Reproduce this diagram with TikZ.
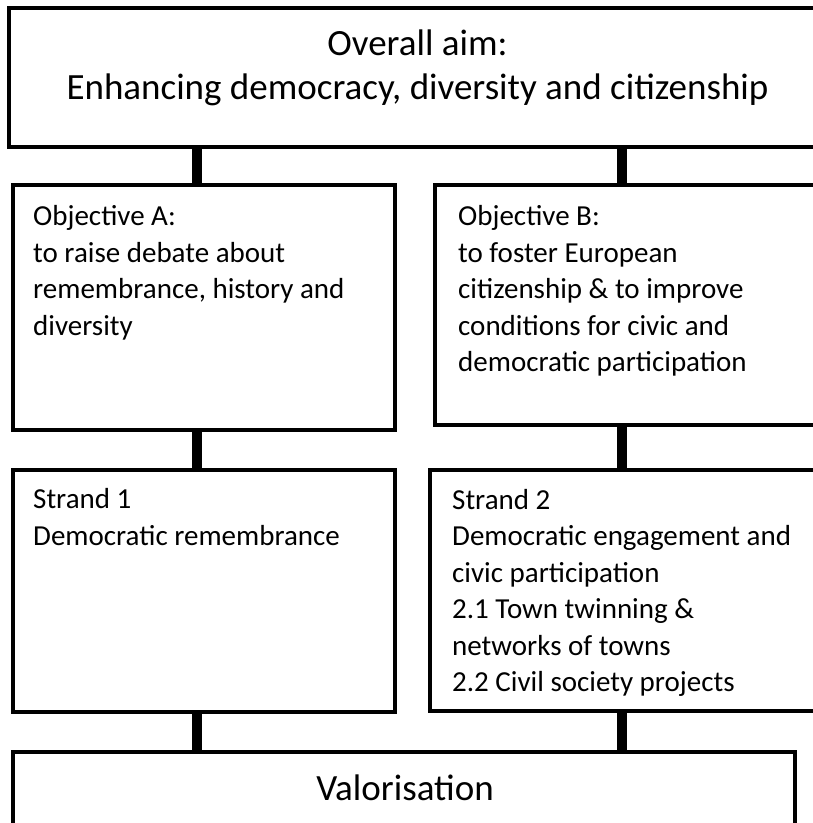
\documentclass[tikz,border=0pt]{standalone}
\usepackage{fontspec}
\setmainfont{Carlito}
\usetikzlibrary{positioning}

\begin{document}
\begin{tikzpicture}[x=1pt,y=1pt,node distance=40pt,
    box/.style={draw,rectangle,line width=4pt,inner sep=0pt,outer sep=0pt},
    bigtxt/.style={font=\fontsize{37}{44}\selectfont,inner sep=0pt,anchor=base},
    txt/.style={font=\fontsize{29}{36.5}\selectfont,align=left,inner sep=0pt,anchor=base west},
    link/.style={line width=10pt}]
    \useasboundingbox (0,0) rectangle (813,823);

    \node[box,minimum width=821pt,minimum height=139pt,anchor=north west] (aim) at (9,815) {};
    \node[box,minimum width=382pt,minimum height=245pt] (objA) [below right=38pt and 4pt of aim.south west] {};
    \node[box,minimum width=395pt,minimum height=240pt] (objB) [below right=0pt and 40pt of objA.north east] {};
    \node[box,minimum width=382pt,minimum height=242pt] (strA) [below right=40pt and 0pt of objA.south west] {};
    \node[box,minimum width=400pt,minimum height=241pt] (strB) [below right=0pt and 35pt of strA.north east] {};
    \node[box,minimum width=782pt,minimum height=88pt] (valor) [below right=40pt and 0pt of strA.south west] {};

    % base of a multi-line node is its last line
    \node[bigtxt] (aimA) at ([xshift=-2pt,yshift=-48pt]aim.north) {Overall aim:};
    \node[bigtxt] (aimB) at ([xshift=-2pt,yshift=-92pt]aim.north) {Enhancing democracy, diversity and citizenship};
    \node[txt] (objAtxt) at ([shift={(20pt,-150.2pt)}]objA.north west) {Objective A:\\to raise debate about\\remembrance, history and\\diversity};
    \node[txt] (objBtxt) at ([shift={(23pt,-186.7pt)}]objB.north west) {Objective B:\\to foster European\\citizenship \& to improve\\conditions for civic and\\democratic participation};
    \node[txt] (strAtxt) at ([shift={(20pt,-75.5pt)}]strA.north west) {Strand 1\\Democratic remembrance};
    \node[txt] (strBtxt) at ([shift={(22pt,-221.5pt)}]strB.north west) {Strand 2\\Democratic engagement and\\civic participation\\2.1 Town twinning \&\\networks of towns\\2.2 Civil society projects};
    \node[bigtxt] (valortxt) at ([xshift=1pt,yshift=-48pt]valor.north) {Valorisation};

    \coordinate (colL) at (197,0); \coordinate (colR) at (622,0);
    \draw[link] (aim.south -| colL) -- (objA.north -| colL);
    \draw[link] (aim.south -| colR) -- (objB.north -| colR);
    \draw[link] (objA.south -| colL) -- (strA.north -| colL);
    \draw[link] (objB.south -| colR) -- (strB.north -| colR);
    \draw[link] (strA.south -| colL) -- (valor.north -| colL);
    \draw[link] (strB.south -| colR) -- (valor.north -| colR);
\end{tikzpicture}
\end{document}
